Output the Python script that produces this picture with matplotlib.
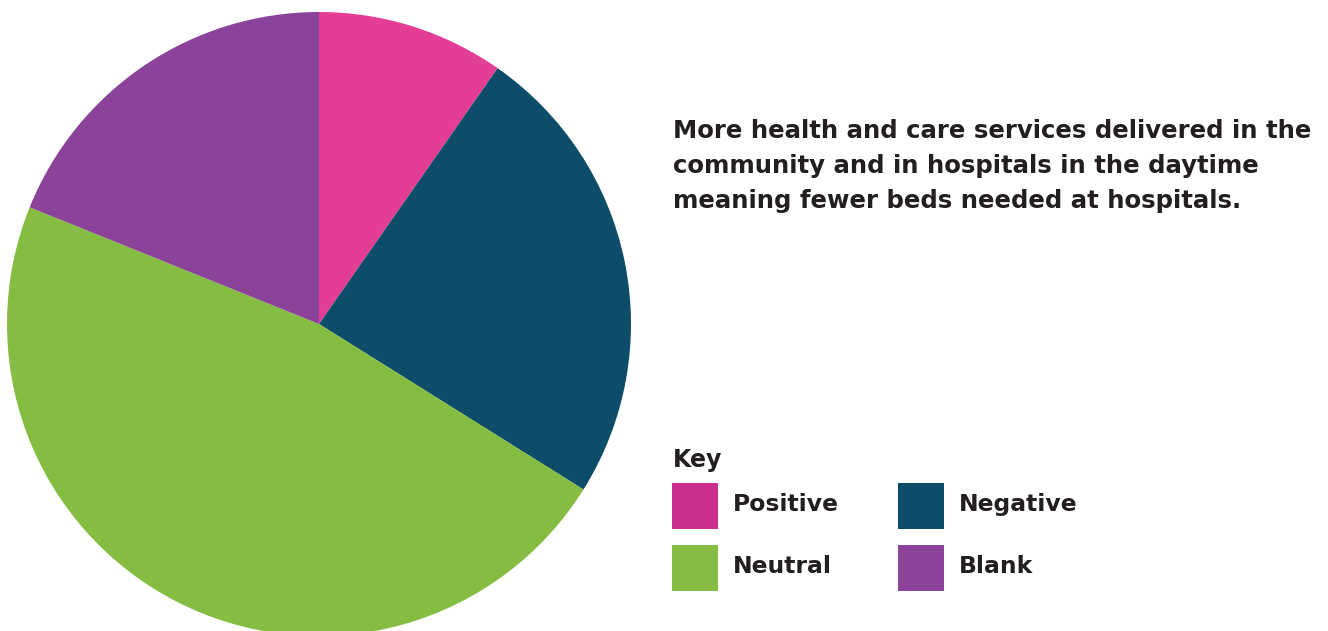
import matplotlib.pyplot as plt
from matplotlib.patches import Rectangle

W, H = 1328, 631

labels = ['Positive', 'Negative', 'Neutral', 'Blank']
shares = [9.7, 24.2, 47.2, 18.9]
pie_colors = ['#E43D95', '#0E4D69', '#84BD41', '#8A4399']
key_colors = ['#CA2F8D', '#0E4D69', '#84BD41', '#8A4399']

caption = ('More health and care services delivered in the\n'
           'community and in hospitals in the daytime\n'
           'meaning fewer beds needed at hospitals.')

plt.rcParams['font.family'] = ['DejaVu Sans']

fig = plt.figure(figsize=(W / 100, H / 100), dpi=100)

# pie, centre and radius in pixels
cx, cy, r = 319, H - 324, 312
ax = fig.add_axes([(cx - r) / W, (cy - r) / H, 2 * r / W, 2 * r / H])
ax.pie(shares, colors=pie_colors, startangle=90, counterclock=False,
       radius=1, wedgeprops=dict(linewidth=0))
ax.set_xlim(-1, 1)
ax.set_ylim(-1, 1)
ax.set_aspect('equal')
ax.axis('off')

fig.text(673 / W, 1 - 119 / H, caption, ha='left', va='top',
         fontsize=17.6, fontweight='bold', color='#231F20', linespacing=1.58)

# key
fig.text(673 / W, 1 - 467 / H, 'Key', ha='left', va='baseline',
         fontsize=17, fontweight='bold', color='#231F20')
sq = 46
for i, (lab, col) in enumerate(zip(labels, key_colors)):
    x0 = 672 + (i % 2) * 226
    y0 = 483 + (i // 2) * 62
    fig.add_artist(Rectangle((x0 / W, 1 - (y0 + sq) / H), sq / W, sq / H,
                             transform=fig.transFigure, color=col, lw=0))
    fig.text((x0 + 61) / W, 1 - (y0 + sq / 2 - 1.5) / H, lab, ha='left',
             va='center', fontsize=16.9, fontweight='bold', color='#231F20')

fig.savefig('out.png', dpi=100, facecolor='white')
